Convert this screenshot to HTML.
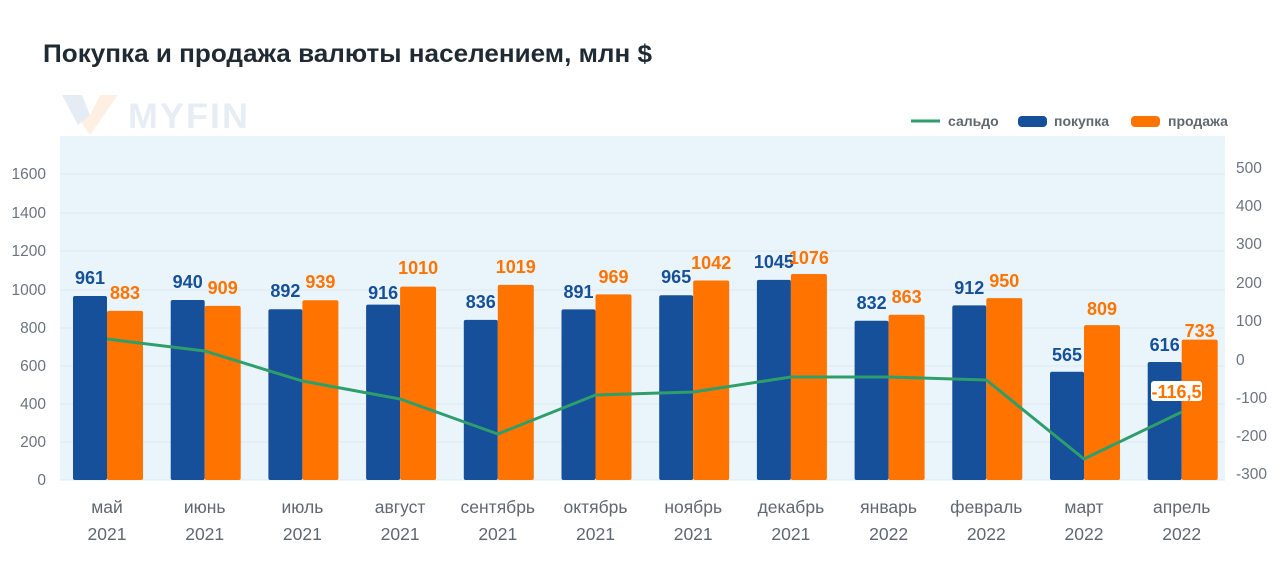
<!DOCTYPE html>
<html><head><meta charset="utf-8"><style>
html,body{margin:0;padding:0;background:#fff;}
svg{display:block;font-family:"Liberation Sans",sans-serif;}
.yl{font-size:15.5px;fill:#6b7480;}
.b{font-size:18px;font-weight:bold;fill:#164f9a;text-anchor:middle;}
.o{font-size:18px;font-weight:bold;fill:#ff7300;text-anchor:middle;}
.m{font-size:17.5px;fill:#5f6770;text-anchor:middle;}
</style></head><body>
<svg width="1280" height="569" viewBox="0 0 1280 569">
<text x="43" y="62" font-size="25" font-weight="bold" fill="#1f2a33" textLength="609" lengthAdjust="spacingAndGlyphs">Покупка и продажа валюты населением, млн $</text>
<!-- logo -->
<polygon points="62,95 82,95 90,115 100,95 118,95 90,135" fill="#fdf0e3"/>
<polygon points="62,95 82,95 90,115 78,125" fill="#e6ecf4"/>
<text x="128" y="128" font-size="35" font-weight="bold" fill="#e7edf4" letter-spacing="2" textLength="122" lengthAdjust="spacingAndGlyphs">MYFIN</text>
<!-- legend -->
<line x1="911" y1="121" x2="940" y2="121" stroke="#2e9e6b" stroke-width="3"/>
<text x="948" y="126" font-size="14" font-weight="bold" fill="#5f6770">сальдо</text>
<rect x="1018" y="116" width="29" height="11" rx="4" fill="#164f9a"/>
<text x="1054" y="126" font-size="14" font-weight="bold" fill="#5f6770">покупка</text>
<rect x="1131" y="116" width="29" height="11" rx="4" fill="#ff7300"/>
<text x="1168" y="126" font-size="14" font-weight="bold" fill="#5f6770">продажа</text>
<!-- plot bg -->
<rect x="60" y="136" width="1165" height="344" fill="#eaf5fb"/>
<g stroke="#dde8f0" stroke-width="1">
<line x1="60" x2="1225" y1="174" y2="174"/><line x1="60" x2="1225" y1="213" y2="213"/>
<line x1="60" x2="1225" y1="251" y2="251"/><line x1="60" x2="1225" y1="290" y2="290"/>
<line x1="60" x2="1225" y1="328" y2="328"/><line x1="60" x2="1225" y1="366" y2="366"/>
<line x1="60" x2="1225" y1="404" y2="404"/><line x1="60" x2="1225" y1="442" y2="442"/>
<line x1="60" x2="1225" y1="480" y2="480"/>
</g>
<g class="yl" text-anchor="end">
<text x="46" y="179">1600</text><text x="46" y="218">1400</text><text x="46" y="256">1200</text>
<text x="46" y="295">1000</text><text x="46" y="333">800</text><text x="46" y="371">600</text>
<text x="46" y="409">400</text><text x="46" y="447">200</text><text x="46" y="485">0</text>
</g>
<g class="yl">
<text x="1236" y="173">500</text><text x="1236" y="211">400</text><text x="1236" y="249">300</text>
<text x="1236" y="288">200</text><text x="1236" y="326">100</text><text x="1236" y="365">0</text>
<text x="1236" y="403">-100</text><text x="1236" y="441">-200</text><text x="1236" y="479">-300</text>
</g>
<g fill="#164f9a">
<rect x="73" y="296" width="34" height="184" rx="2"/>
<rect x="170.7" y="300" width="34" height="180" rx="2"/>
<rect x="268.4" y="309.2" width="34" height="170.8" rx="2"/>
<rect x="366.1" y="304.6" width="34" height="175.4" rx="2"/>
<rect x="463.8" y="319.9" width="34" height="160.1" rx="2"/>
<rect x="561.5" y="309.4" width="34" height="170.6" rx="2"/>
<rect x="659.2" y="295.2" width="34" height="184.8" rx="2"/>
<rect x="756.9" y="279.9" width="34" height="200.1" rx="2"/>
<rect x="854.6" y="320.7" width="34" height="159.3" rx="2"/>
<rect x="952.3" y="305.4" width="34" height="174.6" rx="2"/>
<rect x="1050" y="371.8" width="34" height="108.2" rx="2"/>
<rect x="1147.7" y="362" width="34" height="118" rx="2"/>
</g>
<g fill="#ff7300">
<rect x="107" y="310.9" width="36" height="169.1" rx="2"/>
<rect x="204.7" y="305.9" width="36" height="174.1" rx="2"/>
<rect x="302.4" y="300.2" width="36" height="179.8" rx="2"/>
<rect x="400.1" y="286.6" width="36" height="193.4" rx="2"/>
<rect x="497.8" y="284.9" width="36" height="195.1" rx="2"/>
<rect x="595.5" y="294.4" width="36" height="185.6" rx="2"/>
<rect x="693.2" y="280.5" width="36" height="199.5" rx="2"/>
<rect x="790.9" y="274" width="36" height="206" rx="2"/>
<rect x="888.6" y="314.7" width="36" height="165.3" rx="2"/>
<rect x="986.3" y="298.1" width="36" height="181.9" rx="2"/>
<rect x="1084" y="325.1" width="36" height="154.9" rx="2"/>
<rect x="1181.7" y="339.6" width="36" height="140.4" rx="2"/>
</g>
<polyline fill="none" stroke="#2e9e6b" stroke-width="3" stroke-linejoin="round" points="107,339 204.7,351 302.4,381 400.1,399 497.8,434 595.5,395 693.2,392 790.9,377 888.6,377 986.3,380 1084,459 1181.7,412"/>
<g class="b">
<text x="90" y="284">961</text><text x="187.7" y="288">940</text><text x="285.4" y="297">892</text>
<text x="383.1" y="299">916</text><text x="480.8" y="308">836</text><text x="578.5" y="298">891</text>
<text x="676.2" y="283">965</text><text x="773.9" y="268">1045</text><text x="871.6" y="309">832</text>
<text x="969.3" y="294">912</text><text x="1067" y="361">565</text><text x="1164.7" y="351">616</text>
</g>
<g class="o">
<text x="125" y="299">883</text><text x="222.7" y="294">909</text><text x="320.4" y="288">939</text>
<text x="418.1" y="274">1010</text><text x="515.8" y="273">1019</text><text x="613.5" y="283">969</text>
<text x="711.2" y="269">1042</text><text x="808.9" y="264">1076</text><text x="906.6" y="303">863</text>
<text x="1004.3" y="287">950</text><text x="1102" y="315">809</text><text x="1199.7" y="337">733</text>
</g>
<rect x="1151" y="381" width="51" height="20" rx="3" fill="#fff"/>
<text x="1176.5" y="398" class="o" font-size="18">-116,5</text>
<g class="m">
<text x="107" y="513">май</text><text x="204.7" y="513">июнь</text><text x="302.4" y="513">июль</text>
<text x="400.1" y="513">август</text><text x="497.8" y="513">сентябрь</text><text x="595.5" y="513">октябрь</text>
<text x="693.2" y="513">ноябрь</text><text x="790.9" y="513">декабрь</text><text x="888.6" y="513">январь</text>
<text x="986.3" y="513">февраль</text><text x="1084" y="513">март</text><text x="1181.7" y="513">апрель</text>
<text x="107" y="540">2021</text><text x="204.7" y="540">2021</text><text x="302.4" y="540">2021</text>
<text x="400.1" y="540">2021</text><text x="497.8" y="540">2021</text><text x="595.5" y="540">2021</text>
<text x="693.2" y="540">2021</text><text x="790.9" y="540">2021</text><text x="888.6" y="540">2022</text>
<text x="986.3" y="540">2022</text><text x="1084" y="540">2022</text><text x="1181.7" y="540">2022</text>
</g>
</svg>
</body></html>
